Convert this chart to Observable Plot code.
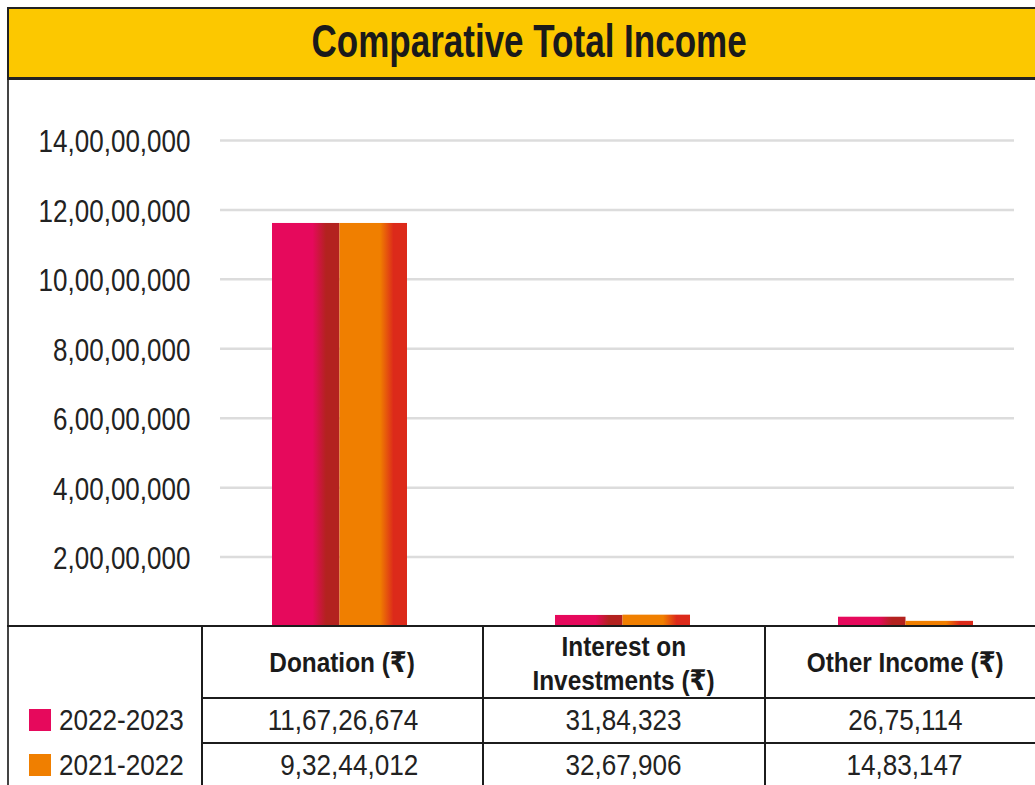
<!DOCTYPE html>
<html>
<head>
<meta charset="utf-8">
<script src="https://cdn.jsdelivr.net/npm/d3@7"></script>
<script src="https://cdn.jsdelivr.net/npm/@observablehq/plot@0.6"></script>
<style>
  html, body { margin: 0; padding: 0; background: #fff; }
  #wrap { position: relative; width: 1035px; height: 785px; overflow: hidden;
          font-family: "Liberation Sans", Arial, "DejaVu Sans", sans-serif; color: #1e1e1e; }
  #titlebar { position: absolute; left: 7px; top: 7px; width: 1060px; height: 73px; box-sizing: border-box;
              background: #FCC800; border-top: 2px solid #222; border-left: 2px solid #222; border-bottom: 3px solid #222; }
  #title { position: absolute; left: 0; width: 1041px; top: 8px; text-align: center; line-height: 1; }
  #title span { display: inline-block; font-size: 47px; font-weight: bold; color: #1a1a1a; transform: scaleX(0.745); white-space: nowrap; }
  #leftborder { position: absolute; left: 7px; top: 80px; width: 2px; height: 705px; background: #444; }
  #chart { position: absolute; left: 0; top: 80px; }
  .line { position: absolute; background: #1c1c1c; }
  .cell { position: absolute; display: flex; align-items: center; justify-content: center; box-sizing: border-box; }
  .cell span { display: inline-block; white-space: nowrap; line-height: 1; }
  .hdr span { font-size: 28.5px; font-weight: bold; transform: scaleX(0.855); color: #1a1a1a; }
  .val span { font-size: 29px; transform: scaleX(0.9); color: #222; }
  .swatch { position: absolute; width: 22px; height: 22px; }
  .leg { position: absolute; line-height: 1; font-size: 29px; transform: scaleX(0.9); transform-origin: left center; color: #222; white-space: nowrap; }
</style>
</head>
<body>
<div id="wrap">
  <div id="titlebar"><div id="title"><span>Comparative Total Income</span></div></div>
  <div id="leftborder"></div>
  <div id="chart"></div>
  <div id="table"></div>
</div>
<script>
// ---------------- data ----------------
const categories = ["Donation", "Interest on Investments", "Other Income"];
const headerLabels = [["Donation (₹)"], ["Interest on", "Investments (₹)"], ["Other Income (₹)"]];
const years = ["2022-2023", "2021-2022"];
const seriesColors = ["#E6095C", "#F07F00"];
const seriesDark = ["#B3221F", "#DC2A1A"];
// values printed in the table
const values2023 = [116726674, 3184323, 2675114];
const values2021 = [93244012, 3267906, 1483147];
// bar heights as drawn in the picture (both donation bars are drawn at ~11.6 crore)
const bars2023 = [116100000, 3184323, 2675114];
const bars2021 = [116100000, 3267906, 1483147];
const yTicks = [20000000, 40000000, 60000000, 80000000, 100000000, 120000000, 140000000];

// Indian digit grouping: 11,67,26,674
function fmtINR(n) {
  const s = String(Math.round(n));
  if (s.length <= 3) return s;
  const last3 = s.slice(-3);
  let rest = s.slice(0, -3);
  const parts = [];
  while (rest.length > 2) { parts.unshift(rest.slice(-2)); rest = rest.slice(0, -2); }
  if (rest.length) parts.unshift(rest);
  return parts.join(",") + "," + last3;
}

const barData2023 = categories.map((c, i) => ({category: c, value: bars2023[i]}));
const barData2021 = categories.map((c, i) => ({category: c, value: bars2021[i]}));

function gradientDefs() {
  const defs = d3.create("svg:defs");
  seriesColors.forEach((c, i) => {
    const g = defs.append("linearGradient").attr("id", "bargrad" + i)
      .attr("x1", 0).attr("x2", 1).attr("y1", 0).attr("y2", 0);
    g.append("stop").attr("offset", "0.6").attr("stop-color", c);
    g.append("stop").attr("offset", "0.8").attr("stop-color", seriesDark[i]);
  });
  return defs.node();
}

const chart = Plot.plot({
  width: 1035,
  height: 560,
  marginTop: 60,
  marginBottom: 14,
  marginLeft: 198,
  marginRight: 0,
  style: {background: "transparent", fontFamily: "'Liberation Sans', Arial, sans-serif", overflow: "visible"},
  x: {domain: categories, range: [198, 1047], padding: 0, axis: null},
  y: {domain: [0, 140000000], axis: null},
  marks: [
    gradientDefs,
    Plot.ruleY(yTicks, {stroke: "#dcdcdc", strokeWidth: 2.5, insetLeft: 22, insetRight: 21}),
    Plot.barY(barData2023, {x: "category", y: "value", fill: "url(#bargrad0)", insetLeft: 74, insetRight: 141.5}),
    Plot.barY(barData2021, {x: "category", y: "value", fill: "url(#bargrad1)", insetLeft: 141.5, insetRight: 74}),
    Plot.axisY(yTicks, {tickSize: 0, tickPadding: 8, tickFormat: fmtINR, fontSize: 31, fill: "#222", dy: 2, label: null})
  ]
});
document.getElementById("chart").appendChild(chart);

// condense the y tick labels
d3.select(chart).selectAll('g[aria-label="y-axis tick label"] text').each(function() {
  const t = d3.select(this);
  const tr = t.attr("transform");
  if (tr) {
    t.attr("transform", tr + " scale(0.84,1)");
  } else {
    const x = parseFloat(t.attr("x")) || 0;
    t.attr("x", 0).attr("transform", `translate(${x},0) scale(0.84,1)`);
  }
});

// ---------------- table / legend ----------------
const table = document.getElementById("table");
const colEdges = [8, 202, 483, 765, 1045];
const rowEdges = [627, 698, 743, 788];
function addDiv(cls, style, html) {
  const d = document.createElement("div");
  d.className = cls;
  Object.assign(d.style, style);
  if (html != null) d.innerHTML = html;
  table.appendChild(d);
  return d;
}
// lines
addDiv("line", {left: "7px", top: "625px", width: "1028px", height: "2px"});
[201, 482, 764].forEach(x => addDiv("line", {left: x + "px", top: "627px", width: "2px", height: "160px"}));
[697, 742].forEach(y => addDiv("line", {left: "202px", top: y + "px", width: "833px", height: "2px"}));

// headers
headerLabels.forEach((lines, c) => {
  const cell = addDiv("cell hdr", {
    left: colEdges[c + 1] + "px", top: rowEdges[0] + "px",
    width: (colEdges[c + 2] - colEdges[c + 1]) + "px", height: (rowEdges[1] - rowEdges[0]) + "px",
    flexDirection: "column"
  });
  lines.forEach(l => {
    const s = document.createElement("span");
    s.textContent = l;
    if (lines.length > 1) s.style.lineHeight = "34px";
    cell.appendChild(s);
  });
});
// values
[values2023, values2021].forEach((vals, r) => {
  vals.forEach((v, c) => {
    const right = c === 0;
    const cell = addDiv("cell val", {
      left: colEdges[c + 1] + "px", top: rowEdges[r + 1] + "px",
      width: (colEdges[c + 2] - colEdges[c + 1]) + "px", height: (rowEdges[r + 2] - rowEdges[r + 1]) + "px",
      justifyContent: right ? "flex-end" : "center", paddingRight: right ? "65px" : "0"
    });
    const s = document.createElement("span");
    s.textContent = fmtINR(v);
    if (right) s.style.transformOrigin = "right center";
    cell.appendChild(s);
  });
});
// legend
years.forEach((y, r) => {
  const cy = (rowEdges[r + 1] + rowEdges[r + 2]) / 2;
  addDiv("swatch", {left: "29px", top: (cy - 11.5) + "px", background: seriesColors[r]});
  addDiv("leg", {left: "59px", top: (cy - 14.5) + "px"}, y);
});
</script>
</body>
</html>
